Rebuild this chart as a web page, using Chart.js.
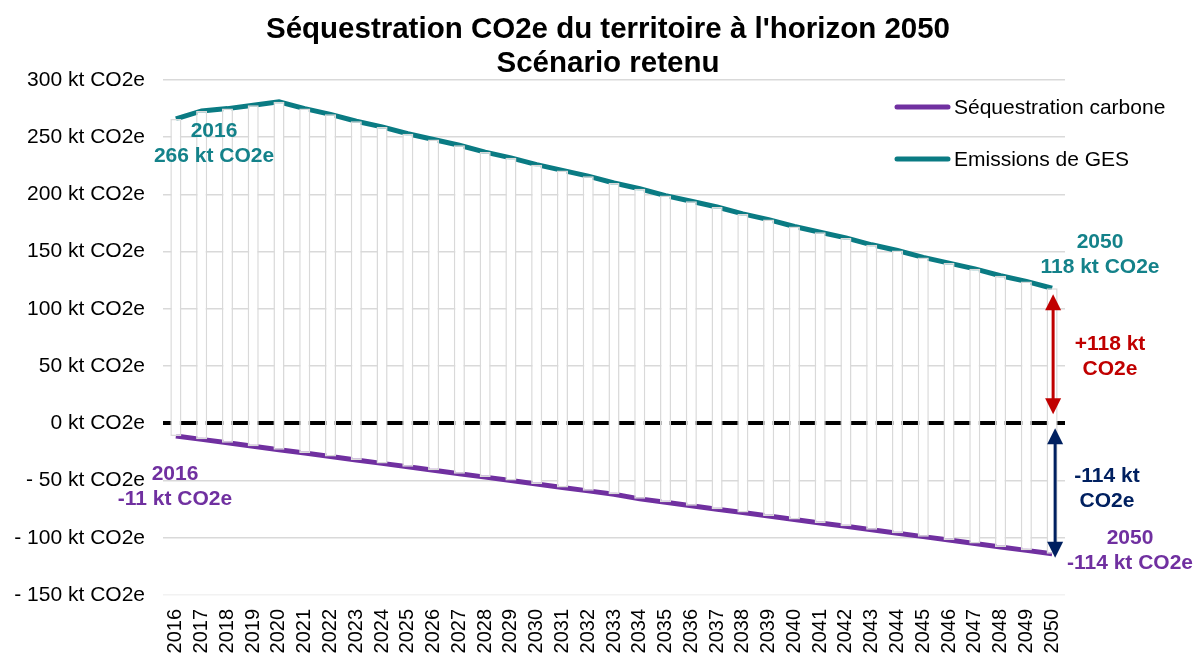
<!DOCTYPE html>
<html>
<head>
<meta charset="utf-8">
<script src="https://cdn.jsdelivr.net/npm/chart.js@4.4.1/dist/chart.umd.min.js"></script>
<style>
  html, body { margin: 0; padding: 0; background: #ffffff; }
  #wrap { width: 1197px; height: 655px; }
</style>
</head>
<body>
<div id="wrap"><canvas id="chartCO2" width="1197" height="655"></canvas></div>
<script>
var years = ["2016", "2017", "2018", "2019", "2020", "2021", "2022", "2023", "2024", "2025",
  "2026", "2027", "2028", "2029", "2030", "2031", "2032", "2033", "2034", "2035",
  "2036", "2037", "2038", "2039", "2040", "2041", "2042", "2043", "2044", "2045",
  "2046", "2047", "2048", "2049", "2050"];

// kt CO2e
var emissions = [266, 273, 275, 278, 281, 275, 270, 264, 259, 253,
  248, 243, 237, 232, 226, 221, 216, 210, 205, 199,
  194, 189, 183, 178, 172, 167, 162, 156, 151, 145,
  140, 135, 129, 124, 118];
var sequestration = [-11, -14, -17, -20, -23, -26, -29, -32, -35, -38,
  -41, -44, -47, -50, -53, -56, -59, -62, -66, -69,
  -72, -75, -78, -81, -84, -87, -90, -93, -96, -99,
  -102, -105, -108, -111, -114];

var yTicks = [300, 250, 200, 150, 100, 50, 0, -50, -100, -150];
var titleLines = ["Séquestration CO2e du territoire à l'horizon 2050", "Scénario retenu"];

var TEAL = "#0a7b83";
var TEAL_TXT = "#14828a";
var PURPLE = "#7030a0";
var RED = "#c00000";
var NAVY = "#002060";
var FONT = "Arial, 'Liberation Sans', sans-serif";

var spans = years.map(function(y, i) { return [sequestration[i], emissions[i]]; });

function tickLabel(v) {
  if (v < 0) return "- " + Math.abs(v) + " kt CO2e";
  return v + " kt CO2e";
}

function drawArrow(ctx, x, y1, y2, color) {
  var hw = 8, hh = 16;
  ctx.save();
  ctx.strokeStyle = color;
  ctx.fillStyle = color;
  ctx.lineWidth = 3;
  ctx.beginPath();
  ctx.moveTo(x, y1 + hh - 2);
  ctx.lineTo(x, y2 - hh + 2);
  ctx.stroke();
  ctx.beginPath();
  ctx.moveTo(x, y1);
  ctx.lineTo(x - hw, y1 + hh);
  ctx.lineTo(x + hw, y1 + hh);
  ctx.closePath();
  ctx.fill();
  ctx.beginPath();
  ctx.moveTo(x, y2);
  ctx.lineTo(x - hw, y2 - hh);
  ctx.lineTo(x + hw, y2 - hh);
  ctx.closePath();
  ctx.fill();
  ctx.restore();
}

function drawText(ctx, lines, x, y, color) {
  ctx.save();
  ctx.font = "bold 21px " + FONT;
  ctx.fillStyle = color;
  ctx.textAlign = "center";
  ctx.textBaseline = "middle";
  for (var i = 0; i < lines.length; i++) {
    ctx.fillText(lines[i], x, y + i * 25);
  }
  ctx.restore();
}

function drawTitle(ctx) {
  ctx.save();
  ctx.font = "bold 29.5px " + FONT;
  ctx.fillStyle = "#000000";
  ctx.textAlign = "center";
  ctx.textBaseline = "middle";
  ctx.fillText(titleLines[0], 608, 30);
  ctx.fillText(titleLines[1], 608, 64);
  ctx.restore();
}

// title, labels, arrows and legend drawn on top of the chart
var annotations = {
  id: "annotations",
  afterDraw: function(chart) {
    var ctx = chart.ctx;
    var xs = chart.scales.x, ys = chart.scales.y;
    var last = years.length - 1;
    var xEnd = xs.getPixelForValue(last);

    drawTitle(ctx);

    drawText(ctx, [years[0], emissions[0] + " kt CO2e"], 214, ys.getPixelForValue(emissions[0]) + 12, TEAL_TXT);
    drawText(ctx, [years[last], emissions[last] + " kt CO2e"], 1100, ys.getPixelForValue(emissions[last]) - 46, TEAL_TXT);
    drawText(ctx, ["+" + emissions[last] + " kt", "CO2e"], 1110, ys.getPixelForValue(emissions[last] / 2) - 12, RED);
    drawText(ctx, [sequestration[last] + " kt", "CO2e"], 1107, ys.getPixelForValue(sequestration[last] / 2) - 12, NAVY);
    drawText(ctx, [years[last], sequestration[last] + " kt CO2e"], 1130, ys.getPixelForValue(sequestration[last]) - 16, PURPLE);
    drawText(ctx, [years[0], sequestration[0] + " kt CO2e"], 175, ys.getPixelForValue(sequestration[0]) + 38, PURPLE);

    drawArrow(ctx, xEnd + 1, ys.getPixelForValue(emissions[last]) + 6, ys.getPixelForValue(0) - 9, RED);
    drawArrow(ctx, xEnd + 3, ys.getPixelForValue(0) + 5, ys.getPixelForValue(sequestration[last]) + 4, NAVY);

    // legend
    var items = [
      { text: "Séquestration carbone", color: PURPLE, y: 107 },
      { text: "Emissions de GES", color: TEAL, y: 159 }
    ];
    ctx.save();
    ctx.font = "21px " + FONT;
    ctx.textBaseline = "middle";
    ctx.lineCap = "round";
    items.forEach(function(it) {
      ctx.strokeStyle = it.color;
      ctx.lineWidth = 5;
      ctx.beginPath();
      ctx.moveTo(897, it.y);
      ctx.lineTo(948, it.y);
      ctx.stroke();
      ctx.fillStyle = "#000000";
      ctx.fillText(it.text, 954, it.y + 1);
    });
    ctx.restore();
  }
};

function main() {
  var chart = new Chart("chartCO2", {
    type: "bar",
    data: {
      labels: years,
      datasets: [
        {
          label: "écart",
          data: spans,
          backgroundColor: "#ffffff",
          borderColor: "#d9d9d9",
          borderWidth: 1.5,
          borderSkipped: false,
          barPercentage: 0.43,
          categoryPercentage: 1,
          order: 1
        },
        {
          type: "line",
          label: "Séquestration carbone",
          data: sequestration,
          borderColor: PURPLE,
          borderWidth: 5,
          pointRadius: 0,
          fill: false,
          order: 2
        },
        {
          type: "line",
          label: "Emissions de GES",
          data: emissions,
          borderColor: TEAL,
          borderWidth: 5,
          pointRadius: 0,
          fill: false,
          order: 2
        }
      ]
    },
    options: {
      responsive: false,
      animation: false,
      layout: { padding: { left: 0, right: 132, top: 80, bottom: 0 } },
      plugins: {
        legend: { display: false },
        tooltip: { enabled: false },
        title: { display: false }
      },
      scales: {
        x: {
          grid: { display: false },
          border: { display: false },
          ticks: {
            color: "#000000",
            font: { family: FONT, size: 20 },
            minRotation: 90,
            maxRotation: 90,
            autoSkip: false,
            padding: 6
          },
          afterFit: function(scale) { scale.height = 60; }
        },
        y: {
          min: -150,
          max: 300,
          afterBuildTicks: function(scale) {
            scale.ticks = yTicks.map(function(v) { return { value: v }; });
          },
          grid: {
            drawTicks: false,
            color: function(c) {
              if (c.tick && c.tick.value === 0) return "#000000";
              if (c.tick && c.tick.value === -150) return "#f2f2f2";
              return "#d9d9d9";
            },
            lineWidth: function(c) {
              return (c.tick && c.tick.value === 0) ? 4 : 1.5;
            }
          },
          border: { display: false },
          ticks: {
            color: "#000000",
            font: { family: FONT, size: 21 },
            padding: 18,
            callback: function(v) { return tickLabel(v); }
          },
          afterFit: function(scale) { scale.width = 163; }
        }
      }
    },
    plugins: [annotations]
  });
}

main();
</script>
</body>
</html>
